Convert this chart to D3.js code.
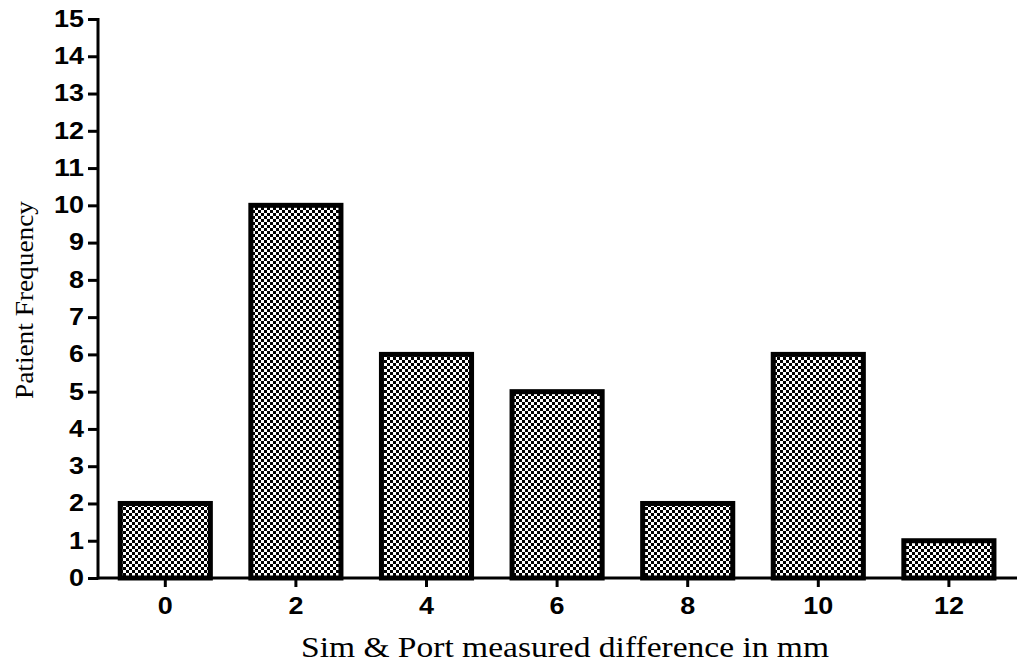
<!DOCTYPE html>
<html><head><meta charset="utf-8">
<script src="https://cdn.jsdelivr.net/npm/d3@7"></script>
<style>body{margin:0;background:#fff}</style>
</head><body>
<svg id="c" width="1024" height="662"></svg>
<script>
const categories = ["0","2","4","6","8","10","12"];
const values = [2,10,6,5,2,6,1];
const yTicks = [0,1,2,3,4,5,6,7,8,9,10,11,12,13,14,15];

const svg = d3.select("#c");
const defs = svg.append("defs");
const pat = defs.append("pattern").attr("id","chk").attr("patternUnits","userSpaceOnUse")
  .attr("width",6).attr("height",6);
pat.append("rect").attr("width",6).attr("height",6).attr("fill","#fff");
pat.append("rect").attr("x",0).attr("y",0).attr("width",3).attr("height",3).attr("fill","#000");
pat.append("rect").attr("x",3).attr("y",3).attr("width",3).attr("height",3).attr("fill","#000");

const x0 = 98, y0 = 578;
const x = d3.scaleBand().domain(categories).range([x0 + 2, x0 + 2 + 7*130.6]).paddingInner(0.31).paddingOuter(0.155);
const y = d3.scaleLinear().domain([0,15]).range([y0, 19]);

svg.append("g").selectAll("rect").data(values).join("rect")
  .attr("x",(d,i)=>x(categories[i]))
  .attr("y",d=>y(d))
  .attr("width",x.bandwidth())
  .attr("height",d=>y0-y(d))
  .attr("fill","url(#chk)")
  .attr("stroke","#000").attr("stroke-width",5);

const yAxis = svg.append("g").attr("transform",`translate(${x0},0)`)
  .call(d3.axisLeft(y).tickValues(yTicks).tickSize(10).tickSizeOuter(0).tickPadding(4));
const xAxis = svg.append("g").attr("transform",`translate(0,${y0})`)
  .call(d3.axisBottom(x).tickSize(9).tickSizeOuter(0).tickPadding(6));
svg.selectAll(".domain").attr("stroke","#000").attr("stroke-width",3);
svg.selectAll(".tick line").attr("stroke","#000").attr("stroke-width",3);
svg.selectAll(".tick text").attr("fill","#000")
  .attr("font-family","Liberation Sans, Arial, sans-serif")
  .attr("font-weight","bold").attr("font-size",23)
  .attr("textLength",function(){return 15*this.textContent.length;})
  .attr("lengthAdjust","spacingAndGlyphs");
xAxis.selectAll(".tick text").attr("dy","0.9em");
xAxis.select(".domain").attr("d",`M${x0},0H1017`);
yAxis.select(".domain").attr("d",`M0,${y0+1.5}V18`);

svg.append("text").attr("transform","translate(33,300) rotate(-90)").attr("text-anchor","middle")
  .attr("font-family","Liberation Serif, Times New Roman, serif").attr("font-size",26)
  .attr("textLength",198).attr("lengthAdjust","spacingAndGlyphs")
  .text("Patient Frequency");
svg.append("text").attr("x",565).attr("y",657).attr("text-anchor","middle")
  .attr("font-family","Liberation Serif, Times New Roman, serif").attr("font-size",30)
  .attr("textLength",528).attr("lengthAdjust","spacingAndGlyphs")
  .text("Sim & Port measured difference in mm");
</script>
</body></html>
